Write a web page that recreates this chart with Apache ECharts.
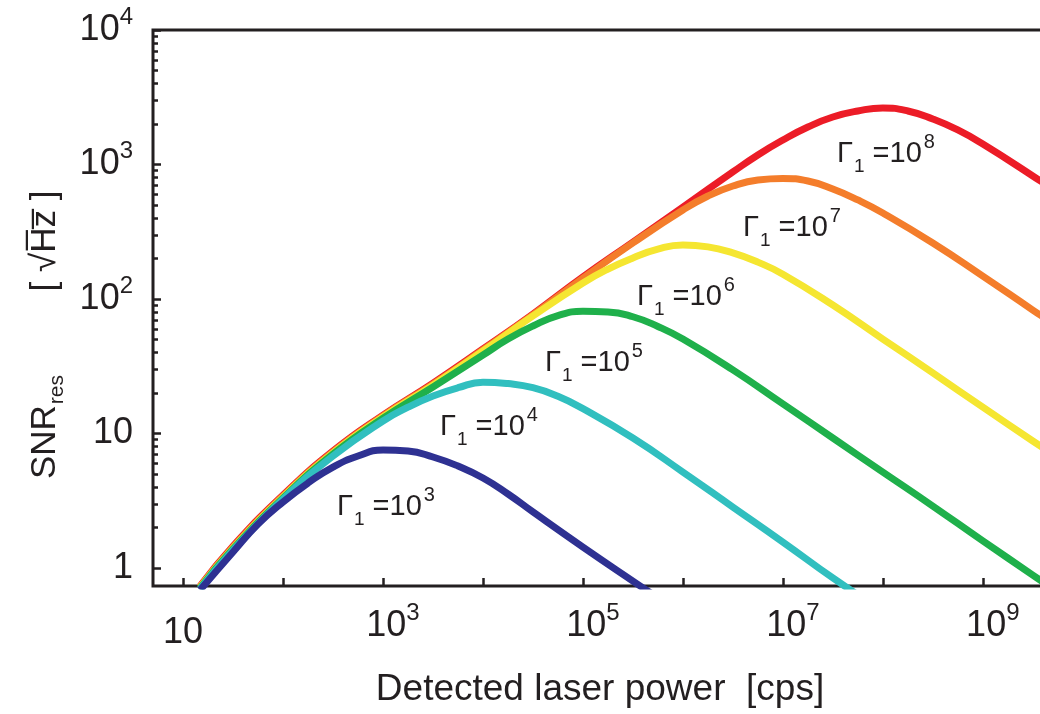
<!DOCTYPE html>
<html><head><meta charset="utf-8">
<script src="https://cdn.jsdelivr.net/npm/echarts@6/dist/echarts.min.js"></script>
<style>html,body{margin:0;padding:0;background:#fff}#c{width:1040px;height:714px}</style>
</head><body><div id="c"></div>
<script>
// Detected laser power [cps] vs SNR_res [sqrt(Hz)], one curve per Gamma_1
const gammaExponents = ['3', '4', '5', '6', '7', '8'];
const curveColors = ['#2e3192', '#31bfbf', '#1fb04b', '#f5e631', '#f47d2b', '#ec1c27'];

const g3P = [14.8, 31.6, 56.2, 100, 178, 316, 562, 1000, 1778, 3162, 5623, 1e4, 1.78e4, 3.16e4, 1e5, 3.16e5, 6.31e5];
const g3S = [0.686, 1.315, 2.12, 3.10, 4.29, 5.63, 6.80, 7.54, 7.41, 6.69, 5.73, 4.67, 3.55, 2.61, 1.43, 0.80, 0.568];

const g4P = [14.8, 31.6, 100, 316, 1000, 1778, 3162, 5623, 1e4, 1.78e4, 3.16e4, 5.62e4, 1e5, 3.16e5, 1e6, 3.16e6, 1e7, 3.16e7, 6.31e7];
const g4S = [0.698, 1.36, 3.26, 6.80, 12.4, 15.7, 19.0, 21.9, 24.1, 23.5, 21.9, 18.9, 15.3, 9.26, 5.17, 2.84, 1.56, 0.843, 0.598];

const g5P = [14.8, 31.6, 100, 316, 1000, 3162, 1e4, 1.78e4, 3.16e4, 5.62e4, 1e5, 1.78e5, 3.16e5, 5.62e5, 1e6, 3.16e6, 1e7, 3.16e7, 1e8, 3.16e8, 1e9, 3.16e9, 4.68e9];
const g5S = [0.710, 1.385, 3.31, 7.04, 13.0, 22.2, 38.3, 50.4, 63.0, 75.2, 81.0, 80.2, 73.8, 62.5, 50.4, 29.7, 16.6, 9.26, 5.17, 2.89, 1.59, 0.887, 0.722];

const g6P = [14.8, 31.6, 100, 316, 1000, 3162, 1e4, 3.16e4, 1e5, 1.78e5, 3.16e5, 5.62e5, 1e6, 1.78e6, 3.16e6, 5.62e6, 1e7, 3.16e7, 1e8, 3.16e8, 1e9, 3.16e9, 5.89e9];
const g6S = [0.722, 1.408, 3.37, 7.16, 13.3, 22.9, 41.1, 74.8, 131.5, 167, 202, 235, 252, 244, 220, 188, 153, 90.2, 50.4, 28.2, 15.7, 8.80, 6.46];

const g7P = [14.8, 31.6, 100, 316, 1000, 3162, 1e4, 3.16e4, 1e5, 3.16e5, 1e6, 1.78e6, 3.16e6, 5.62e6, 1e7, 1.78e7, 3.16e7, 5.62e7, 1e8, 3.16e8, 1e9, 3.16e9, 5.89e9];
const g7S = [0.722, 1.43, 3.43, 7.29, 13.5, 23.3, 41.8, 76.1, 143, 261, 459, 583, 692, 767, 787, 754, 657, 545, 436, 261, 148, 82.8, 60.9];

const g8P = [14.8, 31.6, 100, 316, 1000, 3162, 1e4, 3.16e4, 1e5, 3.16e5, 1e6, 3.16e6, 5.62e6, 1e7, 1.78e7, 3.16e7, 5.62e7, 1e8, 1.78e8, 3.16e8, 5.62e8, 1e9, 3.16e9, 5.89e9];
const g8S = [0.735, 1.458, 3.49, 7.41, 13.7, 23.7, 42.5, 77.4, 146, 265, 483, 880, 1178, 1521, 1900, 2256, 2500, 2631, 2500, 2178, 1806, 1419, 822, 604];

const xTickValues = [10, 100, 1e3, 1e4, 1e5, 1e6, 1e7, 1e8, 1e9];
const xLabelValues = [10, 1e3, 1e5, 1e7, 1e9];
const yTickValues = [1, 10, 100, 1e3, 1e4];
const yMinorTickValues = [2,3,4,5,6,7,8,9, 20,30,40,50,60,70,80,90, 200,300,400,500,600,700,800,900, 2000,3000,4000,5000,6000,7000,8000,9000];

const curvesP = [g3P, g4P, g5P, g6P, g7P, g8P];
const curvesS = [g3S, g4S, g5S, g6S, g7S, g8S];

const FONT = '"Liberation Sans", Arial, Helvetica, sans-serif';
const INK = '#231f20';

function powLabel(v) {
  const e = Math.round(Math.log10(v));
  if (e === 0) return '{p|1}';
  if (e === 1) return '{p|10}';
  return '{b|10}{sup|' + e + '}';
}
function axisRich(shiftLeft) {
  return {
    p: { fontSize: 36, lineHeight: 50, fontFamily: FONT, color: INK },
    b: { fontSize: 36, lineHeight: 36, fontFamily: FONT, color: INK, verticalAlign: 'middle', padding: [0, 0, 0, shiftLeft] },
    sup: { fontSize: 24, lineHeight: 24, fontFamily: FONT, color: INK, verticalAlign: 'middle', padding: [0, 0, 26, 0] }
  };
}

const series = [];
for (let i = curvesP.length - 1; i >= 0; i--) {
  series.push({
    type: 'line',
    name: 'Γ1=10^' + gammaExponents[i],
    data: curvesP[i].map((p, k) => [p, curvesS[i][k]]),
    showSymbol: false,
    smooth: 0.5,
    clip: true,
    lineStyle: { width: 7, color: curveColors[i], cap: 'butt', join: 'round' },
    itemStyle: { color: curveColors[i] },
    silent: true,
    animation: false
  });
}

const labelPos = [[337, 507], [440, 427], [545, 363], [637, 297], [743, 228], [837, 154]];
const graphics = gammaExponents.map((e, i) => ({
  type: 'text',
  x: labelPos[i][0], y: labelPos[i][1],
  style: {
    text: '{g|Γ}{sub|1}{m| =10}{sup|' + e + '}',
    align: 'left', verticalAlign: 'middle',
    rich: {
      g: { fontSize: 29, lineHeight: 29, fontFamily: FONT, fill: INK, verticalAlign: 'middle' },
      m: { fontSize: 29, lineHeight: 29, fontFamily: FONT, fill: INK, verticalAlign: 'middle' },
      sub: { fontSize: 19, lineHeight: 19, fontFamily: FONT, fill: INK, verticalAlign: 'middle', padding: [26, 0, 0, 1] },
      sup: { fontSize: 20, lineHeight: 20, fontFamily: FONT, fill: INK, verticalAlign: 'middle', padding: [0, 0, 24, 2] }
    }
  },
  z: 100
}));
graphics.push({
  type: 'text', x: 600, y: 690,
  style: { text: 'Detected laser power  [cps]', font: '37px ' + FONT, fill: INK, align: 'center', verticalAlign: 'middle' },
  z: 100
});
graphics.push({
  type: 'text', x: 45, y: 427, rotation: Math.PI / 2,
  style: {
    text: '{a|SNR}{s|res}',
    align: 'center', verticalAlign: 'middle',
    rich: {
      a: { fontSize: 35, lineHeight: 35, fontFamily: FONT, fill: INK, verticalAlign: 'middle' },
      s: { fontSize: 21, lineHeight: 21, fontFamily: FONT, fill: INK, verticalAlign: 'middle', padding: [24, 0, 0, 1] }
    }
  },
  z: 100
});
graphics.push({
  type: 'text', x: 45, y: 241, rotation: Math.PI / 2,
  style: {
    text: '[ √H\u0305z\u0305 ]',
    font: '35px ' + FONT, fill: INK,
    align: 'center', verticalAlign: 'middle'
  },
  z: 100
});

const chart = echarts.init(document.getElementById('c'), null, { renderer: 'canvas' });
chart.setOption({
  animation: false,
  backgroundColor: '#fff',
  grid: { left: 153, right: -3, top: 30, bottom: 128, show: true, borderColor: INK, borderWidth: 3, backgroundColor: 'transparent', containLabel: false, outerBoundsMode: 'none' },
  xAxis: {
    type: 'log', logBase: 10, min: 5, max: 4e9,
    axisLine: { show: false },
    splitLine: { show: false },
    minorTick: { show: false },
    axisTick: { show: true, inside: true, length: 8, lineStyle: { width: 2.5, color: INK }, customValues: xTickValues },
    axisLabel: { customValues: xLabelValues, formatter: powLabel, rich: axisRich(20), margin: 22, color: INK }
  },
  yAxis: [{
    type: 'log', logBase: 10, min: 0.735, max: 1e4,
    axisLine: { show: false },
    splitLine: { show: false },
    axisTick: { show: true, inside: true, length: 8, lineStyle: { width: 2.5, color: INK }, customValues: yTickValues },
    axisLabel: { customValues: yTickValues, formatter: powLabel, rich: axisRich(0), margin: 20, color: INK }
  }, {
    type: 'log', logBase: 10, min: 0.735, max: 1e4, position: 'left',
    axisLine: { show: false },
    splitLine: { show: false },
    axisTick: { show: true, inside: true, length: 5, lineStyle: { width: 2.5, color: INK }, customValues: yMinorTickValues },
    axisLabel: { show: false }
  }],
  series: series,
  graphic: graphics
});
</script>
</body></html>
